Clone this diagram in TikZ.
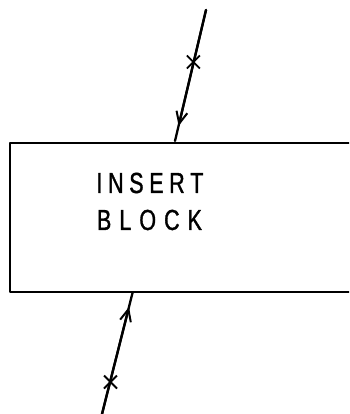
\documentclass[tikz,border=0pt]{standalone}
\usepackage{fontspec}
\newfontfamily\letterfont[FakeStretch=0.74,FakeBold=1.2]{Liberation Sans}
\usetikzlibrary{arrows.meta}
\begin{document}
\begin{tikzpicture}[x=1pt,y=-1pt,line join=round,
  boxline/.style={draw,line width=1.8pt,inner sep=0pt},
  lettering/.style={font=\letterfont\fontsize{29}{29}\selectfont,inner sep=0pt},
  conn/.style={line width=2.3pt,line cap=round},
  barb/.style={conn,-{Straight Barb[length=12pt,width=11pt,line width=2pt]}},
  crossmark/.style={line width=1.8pt}]
\useasboundingbox (0,0) rectangle (349,414);
\clip (0,0) rectangle (349,414);
\node[boxline,anchor=north west,minimum width=380pt,minimum height=149pt] (box) at (9,142) {};
\node[lettering] (t1) at (150,183) {\hbox to 107pt{I\hfil N\hfil S\hfil E\hfil R\hfil T}};
\node[lettering] (t2) at (149.5,220) {\hbox to 105pt{B\hfil L\hfil O\hfil C\hfil K}};
% top connector
\coordinate (a1) at (206,10);
\coordinate (b1) at (175,141);
\coordinate (tip1) at (178.6,126);
\coordinate (x1) at (193.4,62);
\draw[conn] (a1) -- (b1);
\draw[barb] (a1) -- (tip1);
\draw[crossmark] (x1) +(-6.5,-6.5) -- +(6.5,6.5) (x1) +(-6.5,6.5) -- +(6.5,-6.5);
% bottom connector
\coordinate (a2) at (101,418);
\coordinate (b2) at (132.5,293);
\coordinate (tip2) at (129,307);
\coordinate (x2) at (110.5,382);
\draw[conn] (a2) -- (b2);
\draw[barb] (a2) -- (tip2);
\draw[crossmark] (x2) +(-6.5,-6.5) -- +(6.5,6.5) (x2) +(-6.5,6.5) -- +(6.5,-6.5);
\end{tikzpicture}
\end{document}
